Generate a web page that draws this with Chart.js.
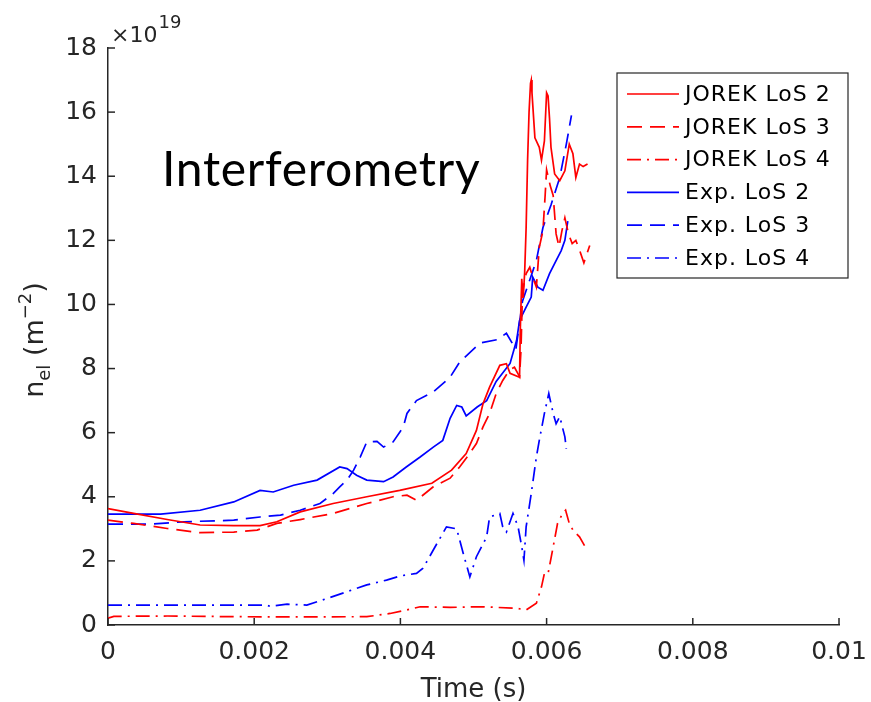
<!DOCTYPE html>
<html>
<head>
<meta charset="utf-8">
<script src="https://cdn.jsdelivr.net/npm/chart.js@4.4.1/dist/chart.umd.min.js"></script>
<style>
  html, body { margin: 0; padding: 0; background: #fff; }
</style>
</head>
<body>
<canvas id="myChart" width="871" height="702"></canvas>
<script>
// time in seconds, line-integrated density in units of 1e19 m^-2
const jorek2Time = [0, 0.00035, 0.00081, 0.00126, 0.00172, 0.00208, 0.00231, 0.00263, 0.00308, 0.00354,
    0.00399, 0.00443, 0.0047, 0.0049, 0.00504, 0.00513, 0.00522, 0.00536, 0.00545, 0.0055,
    0.00563, 0.00564, 0.00566, 0.00568, 0.0057, 0.00572, 0.00574, 0.00576, 0.00578, 0.00579,
    0.0058, 0.00584, 0.0059, 0.00593, 0.00597, 0.006, 0.00602, 0.00604, 0.00606, 0.00611,
    0.00618, 0.00625, 0.00631, 0.00636, 0.0064, 0.00645, 0.0065, 0.00656];
const jorek2Dens = [3.63, 3.48, 3.29, 3.12, 3.1, 3.1, 3.22, 3.53, 3.79, 4.0,
    4.2, 4.42, 4.83, 5.35, 6.07, 6.9, 7.42, 8.1, 8.15, 7.85,
    7.73, 9.2, 10.8, 10.2, 11.0, 12.4, 14.5, 16.0, 16.9, 17.0,
    16.6, 15.2, 14.9, 14.5, 15.1, 16.6, 16.5, 15.8, 14.9, 14.07,
    13.86, 14.17, 15.0, 14.7, 13.96, 14.38, 14.3, 14.38];

const jorek3Time = [0, 0.00035, 0.00081, 0.00126, 0.00172, 0.00204, 0.00231, 0.00263, 0.00308, 0.00354,
    0.0039, 0.00409, 0.00422, 0.00445, 0.00468, 0.00481, 0.0049, 0.00504, 0.00513, 0.00522,
    0.00531, 0.0054, 0.00549, 0.00556, 0.00563, 0.00565, 0.00567, 0.00572, 0.00577, 0.00581,
    0.00586, 0.0059, 0.00595, 0.00598, 0.006, 0.00605, 0.00609, 0.00613, 0.00617, 0.00621,
    0.00625, 0.0063, 0.00635, 0.0064, 0.00645, 0.00651, 0.00654, 0.00659];
const jorek3Dens = [3.27, 3.17, 3.01, 2.88, 2.9, 2.96, 3.17, 3.29, 3.48, 3.79,
    4.0, 4.05, 3.89, 4.31, 4.58, 4.93, 5.2, 5.66, 6.18, 6.6,
    7.22, 7.63, 7.95, 8.04, 7.75, 8.6, 10.4, 10.96, 11.16, 10.85,
    10.54, 11.78, 12.3, 13.4, 14.2, 13.7, 13.4, 12.2, 11.8, 12.3,
    12.7, 12.2, 11.9, 12.0, 11.7, 11.3, 11.5, 11.84];

const jorek4Time = [0, 0.00008, 0.00081, 0.00172, 0.00263, 0.00354, 0.00386, 0.00409, 0.00427, 0.00468,
    0.00513, 0.00559, 0.00572, 0.00586, 0.00593, 0.00597, 0.00602, 0.00609, 0.00615, 0.00622,
    0.00626, 0.00631, 0.00636, 0.00645, 0.00654];
const jorek4Dens = [0.21, 0.27, 0.28, 0.26, 0.25, 0.26, 0.36, 0.47, 0.57, 0.55,
    0.57, 0.52, 0.47, 0.68, 1.19, 1.61, 1.6, 2.44, 3.17, 3.48,
    3.58, 3.17, 2.96, 2.75, 2.39];

const exp2Time = [0, 0.00072, 0.00126, 0.00172, 0.00208, 0.00226, 0.00254, 0.00286, 0.00317, 0.00327,
    0.0034, 0.00354, 0.00377, 0.0039, 0.00408, 0.00427, 0.00445, 0.00458, 0.00468, 0.00477,
    0.00484, 0.0049, 0.00505, 0.00518, 0.00531, 0.0055, 0.00559, 0.00563, 0.00572, 0.00579,
    0.00581, 0.00588, 0.00595, 0.00604, 0.00613, 0.0062, 0.00625, 0.00629];
const exp2Dens = [3.46, 3.46, 3.58, 3.84, 4.2, 4.15, 4.36, 4.52, 4.93, 4.88,
    4.67, 4.52, 4.47, 4.62, 4.93, 5.24, 5.55, 5.76, 6.45, 6.85,
    6.8, 6.52, 6.8, 7.0, 7.6, 8.16, 8.88, 9.5, 9.92, 10.23,
    10.85, 10.54, 10.44, 10.96, 11.37, 11.68, 12.0, 12.6];

const exp3Time = [0, 0.00058, 0.00104, 0.00172, 0.00208, 0.00236, 0.00263, 0.0029, 0.00308, 0.00317,
    0.00327, 0.00336, 0.00345, 0.00354, 0.00368, 0.00377, 0.0039, 0.00404, 0.00409, 0.00422,
    0.00445, 0.00468, 0.00481, 0.00509, 0.00532, 0.00545, 0.00558, 0.00567, 0.00586, 0.00595,
    0.00606, 0.00618, 0.00627, 0.00634];
const exp3Dens = [3.15, 3.15, 3.22, 3.27, 3.37, 3.43, 3.58, 3.79, 4.1, 4.31,
    4.52, 4.83, 5.24, 5.71, 5.73, 5.55, 5.71, 6.18, 6.6, 7.0,
    7.27, 7.73, 8.2, 8.8, 8.9, 9.1, 8.6, 10.1, 11.37, 12.4,
    13.1, 13.96, 15.0, 15.9];

const exp4Time = [0, 0.00217, 0.00222, 0.00245, 0.00272, 0.003, 0.00327, 0.00354, 0.00381, 0.004,
    0.00422, 0.00431, 0.00445, 0.00463, 0.00477, 0.00486, 0.00495, 0.00504, 0.00518, 0.00522,
    0.00536, 0.0054, 0.00545, 0.00554, 0.00561, 0.00566, 0.00569, 0.00572, 0.00579, 0.00586,
    0.0059, 0.00597, 0.00603, 0.00609, 0.00613, 0.00618, 0.00625, 0.00627];
const exp4Dens = [0.62, 0.62, 0.58, 0.65, 0.62, 0.83, 1.04, 1.25, 1.4, 1.53,
    1.61, 1.77, 2.34, 3.06, 3.0, 2.23, 1.5, 2.13, 2.75, 3.37,
    3.48, 3.06, 2.9, 3.48, 3.06, 2.44, 2.02, 3.06, 4.1, 5.24,
    5.76, 6.6, 7.22, 6.6, 6.28, 6.5, 5.87, 5.5];

const xTicks = [0, 0.002, 0.004, 0.006, 0.008, 0.01];
const yTicks = [0, 2, 4, 6, 8, 10, 12, 14, 16, 18];

const RED = '#ff0000';
const BLUE = '#0000ff';
const SOLID = [];
const DASHED = [15, 8];
const DASHDOT = [14, 6, 2, 6];
const AXIS = '#262626';

function toXY(t, n) {
    return t.map((v, i) => ({ x: v, y: n[i] }));
}

function series(label, t, n, color, dash) {
    return {
        label: label,
        data: toXY(t, n),
        borderColor: color,
        borderDash: dash,
        borderWidth: 1.7,
        pointRadius: 0,
        tension: 0,
        fill: false
    };
}

// inward ticks, axis titles, annotation and framed legend
const decorations = {
    id: 'decorations',
    afterDraw(chart) {
        const ctx = chart.ctx;
        const a = chart.chartArea;
        const xs = chart.scales.x, ys = chart.scales.y;
        ctx.save();

        ctx.strokeStyle = AXIS;
        ctx.lineWidth = 1.5;
        xs.ticks.forEach(t => {
            const px = xs.getPixelForValue(t.value);
            ctx.beginPath();
            ctx.moveTo(px, a.bottom);
            ctx.lineTo(px, a.bottom - 7);
            ctx.stroke();
        });
        ys.ticks.forEach(t => {
            const py = ys.getPixelForValue(t.value);
            ctx.beginPath();
            ctx.moveTo(a.left, py);
            ctx.lineTo(a.left + 7, py);
            ctx.stroke();
        });

        // exponent marker
        ctx.fillStyle = AXIS;
        ctx.textBaseline = 'alphabetic';
        ctx.textAlign = 'left';
        ctx.font = '22px "DejaVu Sans"';
        ctx.fillText('\u00d710', 111, 42);
        const w10 = ctx.measureText('\u00d710').width;
        ctx.font = '18px "DejaVu Sans"';
        ctx.fillText('19', 111 + w10 + 1, 28);

        // x title
        ctx.font = '26px "DejaVu Sans"';
        ctx.textAlign = 'center';
        ctx.fillText('Time (s)', (a.left + a.right) / 2, 697);

        // y title with sub/superscript
        const parts = [
            { s: 'n', f: '27px "DejaVu Sans"', dy: 0 },
            { s: 'el', f: '18px "DejaVu Sans"', dy: 7 },
            { s: ' (m', f: '27px "DejaVu Sans"', dy: 0 },
            { s: '\u22122', f: '18px "DejaVu Sans"', dy: -12 },
            { s: ')', f: '27px "DejaVu Sans"', dy: 0 }
        ];
        let total = 0;
        parts.forEach(p => { ctx.font = p.f; p.w = ctx.measureText(p.s).width; total += p.w; });
        ctx.save();
        ctx.translate(43, 340);
        ctx.rotate(-Math.PI / 2);
        ctx.textAlign = 'left';
        let cx = -total / 2;
        parts.forEach(p => { ctx.font = p.f; ctx.fillText(p.s, cx, p.dy); cx += p.w; });
        ctx.restore();

        // annotation
        ctx.fillStyle = '#000';
        ctx.textAlign = 'left';
        ctx.font = '48px Lato';
        if ('letterSpacing' in ctx) ctx.letterSpacing = '0.7px';
        ctx.fillText('Interferometry', 162, 186);

        // legend
        const lx = 617, ly = 73, lw = 231, lh = 205;
        ctx.fillStyle = '#fff';
        ctx.fillRect(lx, ly, lw, lh);
        ctx.strokeStyle = AXIS;
        ctx.lineWidth = 1.2;
        ctx.strokeRect(lx, ly, lw, lh);
        ctx.font = '22px "DejaVu Sans"';
        ctx.textBaseline = 'middle';
        if ('letterSpacing' in ctx) ctx.letterSpacing = '1px';
        chart.data.datasets.forEach((ds, i) => {
            const ry = 94 + i * 32.8;
            ctx.strokeStyle = ds.borderColor;
            ctx.lineWidth = 1.7;
            ctx.setLineDash(ds.borderDash);
            ctx.beginPath();
            ctx.moveTo(627, ry);
            ctx.lineTo(679, ry);
            ctx.stroke();
            ctx.setLineDash([]);
            ctx.fillStyle = '#000';
            ctx.fillText(ds.label, 685, ry + 1);
        });
        ctx.restore();
    }
};

const ctx = document.getElementById('myChart').getContext('2d');
const myChart = new Chart(ctx, {
    type: 'line',
    data: {
        datasets: [
            series('JOREK LoS 2', jorek2Time, jorek2Dens, RED, SOLID),
            series('JOREK LoS 3', jorek3Time, jorek3Dens, RED, DASHED),
            series('JOREK LoS 4', jorek4Time, jorek4Dens, RED, DASHDOT),
            series('Exp. LoS 2', exp2Time, exp2Dens, BLUE, SOLID),
            series('Exp. LoS 3', exp3Time, exp3Dens, BLUE, DASHED),
            series('Exp. LoS 4', exp4Time, exp4Dens, BLUE, DASHDOT)
        ]
    },
    options: {
        responsive: false,
        animation: false,
        devicePixelRatio: 1,
        layout: { padding: { top: 48, right: 32, left: 0, bottom: 0 } },
        plugins: {
            legend: { display: false },
            tooltip: { enabled: false }
        },
        scales: {
            x: {
                type: 'linear',
                min: 0,
                max: 0.01,
                afterBuildTicks: s => { s.ticks = xTicks.map(v => ({ value: v })); },
                afterFit: s => { s.height = 77; s.paddingLeft = 0; s.paddingRight = 0; },
                grid: { drawOnChartArea: false, drawTicks: false },
                border: { color: AXIS, width: 1.5 },
                ticks: {
                    autoSkip: false,
                    maxRotation: 0,
                    padding: 12,
                    color: AXIS,
                    font: { family: 'DejaVu Sans', size: 25 },
                    callback: v => String(+v.toFixed(3))
                }
            },
            y: {
                min: 0,
                max: 18,
                afterBuildTicks: s => { s.ticks = yTicks.map(v => ({ value: v })); },
                afterFit: s => { s.width = 108; s.paddingTop = 0; s.paddingBottom = 0; },
                grid: { drawOnChartArea: false, drawTicks: false },
                border: { color: AXIS, width: 1.5 },
                ticks: {
                    padding: 11,
                    color: AXIS,
                    font: { family: 'DejaVu Sans', size: 25 }
                }
            }
        }
    },
    plugins: [decorations]
});
</script>
</body>
</html>
